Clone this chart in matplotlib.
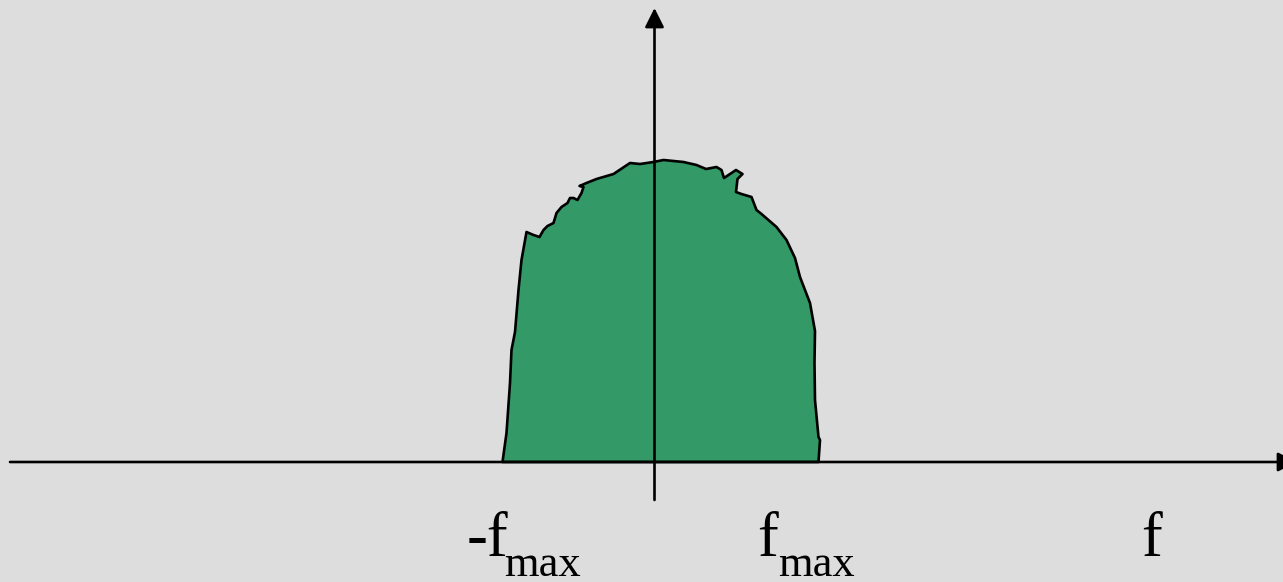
import matplotlib.pyplot as plt

# spectrum outline: frequency offset from the origin and amplitude (pixel-like units)
freq = [-152, -148, -144.5, -143, -139.5, -136, -133, -128, -121, -115, -111, -107,
        -101, -98, -93, -87, -84.5, -81, -77, -73, -71, -75, -68, -58, -41, -24.5,
        -14.5, -1, 9, 29, 42, 51.5, 62, 67, 69.5, 77, 81.5, 88, 83, 81.5, 87, 97,
        102, 107, 122, 132, 140.5, 145.5, 155.5, 160.5, 160, 160.5, 164, 165.5, 164]
amp = [0, 29, 79, 112, 130, 172, 202, 230, 227, 225, 232, 236, 239, 249, 255, 259,
       264, 264, 262, 269, 275, 276, 279, 283, 288, 299, 298, 300, 302, 300, 297,
       293, 295, 292, 284, 289, 292, 288, 283, 270, 268, 265, 252, 248, 235, 222,
       204, 185, 159, 131, 99, 62, 25, 22, 0]

bg = '#dddddd'
green = '#339966'

fig = plt.figure(figsize=(12.83, 5.82), dpi=100, facecolor=bg)
ax = fig.add_axes([0, 0, 1, 1])
ax.set_facecolor(bg)
ax.set_xlim(-654.5, 628.5)
ax.set_ylim(-120, 462)
ax.axis('off')

ax.fill(freq, amp, facecolor=green, edgecolor='black', lw=1.9, joinstyle='round', zorder=2)

# axes with arrow heads
arrow = dict(arrowstyle='-|>', mutation_scale=29, lw=1.9, color='black', shrinkA=0, shrinkB=0)
ax.annotate('', xy=(642.5, 0), xytext=(-644.5, 0), arrowprops=arrow, zorder=3, annotation_clip=False)
ax.annotate('', xy=(0, 454), xytext=(0, -38), arrowprops=arrow, zorder=3, annotation_clip=False)

serif = 'Liberation Serif'
ax.text(-187.5, -94, '-f', fontsize=45, family=serif, ha='left', va='baseline')
ax.text(-150.5, -114, 'max', fontsize=32, family=serif, ha='left', va='baseline')
ax.text(102.5, -94, 'f', fontsize=45, family=serif, ha='left', va='baseline')
ax.text(123.5, -114, 'max', fontsize=32, family=serif, ha='left', va='baseline')
ax.text(486.5, -94, 'f', fontsize=45, family=serif, ha='left', va='baseline')

fig.savefig('out.png', dpi=100, facecolor=bg)
